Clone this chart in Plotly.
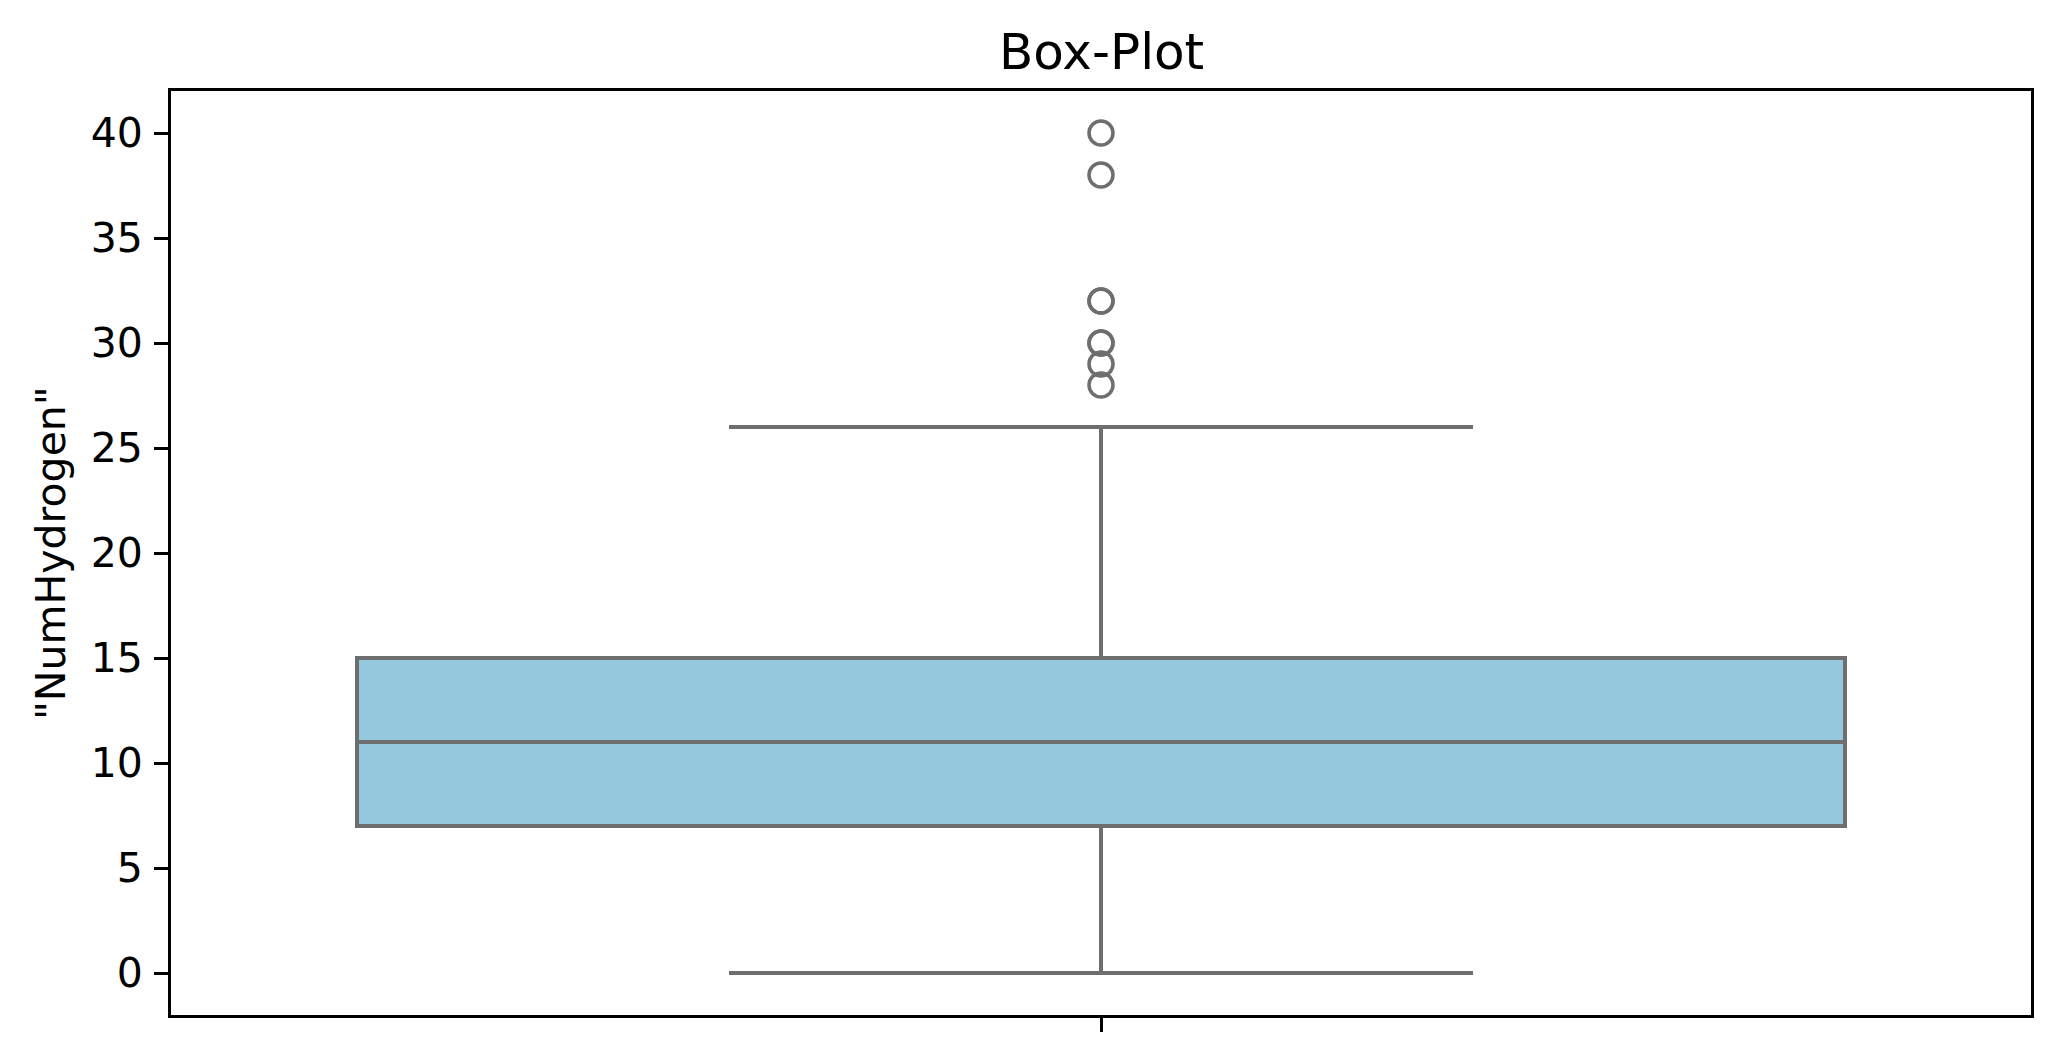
import plotly.graph_objects as go

# ---- data ----
categories = [0]
q1_vals = [7]
median_vals = [11]
q3_vals = [15]
lower_fence = [0]
upper_fence = [26]
outlier_values = [40, 38, 32, 32, 30, 30, 29, 28]
y_ticks = [0, 5, 10, 15, 20, 25, 30, 35, 40]

title_text = "Box-Plot"
y_label = '"NumHydrogen"'

LINE = "#6e6e6e"
FILL = "#95c8dd"
FONT = "DejaVu Sans"

# page body has an 8px default margin; compensate
W, H = 2052, 1053
L, R, T, B = 163, 29, 83, 46

fig = go.Figure()
fig.add_trace(go.Box(
    x=categories, q1=q1_vals, median=median_vals, q3=q3_vals,
    lowerfence=lower_fence, upperfence=upper_fence,
    width=0.8, whiskerwidth=0.5, boxpoints=False,
    fillcolor=FILL, line=dict(color=LINE, width=4),
    showlegend=False, hoverinfo="skip",
))
fig.add_trace(go.Scatter(
    x=[categories[0]] * len(outlier_values), y=outlier_values,
    mode="markers",
    marker=dict(symbol="circle-open", size=24, color=LINE,
                line=dict(color=LINE, width=3.5)),
    showlegend=False, hoverinfo="skip",
))

fig.update_layout(
    width=W, height=H,
    margin=dict(l=L, r=R, t=T, b=B, pad=0),
    paper_bgcolor="white", plot_bgcolor="white",
    font=dict(family=FONT, size=41, color="black"),
    showlegend=False,
)
fig.update_xaxes(
    range=[-0.5, 0.5], showgrid=False, zeroline=False,
    showline=True, mirror=True, linecolor="black", linewidth=3,
    tickmode="array", tickvals=categories, ticktext=[""],
    ticks="outside", ticklen=14, tickwidth=3, tickcolor="black",
    showticklabels=False,
)
fig.update_yaxes(
    range=[-2, 42], showgrid=False, zeroline=False,
    showline=True, mirror=True, linecolor="black", linewidth=3,
    tickmode="array", tickvals=y_ticks, ticktext=[str(v) for v in y_ticks],
    ticks="outside", ticklen=14, tickwidth=3, tickcolor="black",
    tickfont=dict(family=FONT, size=41, color="black"),
    ticklabelstandoff=3,
)

fig.add_annotation(
    text=title_text, xref="paper", yref="paper", x=0.5, y=1,
    xanchor="center", yanchor="bottom", yshift=8, showarrow=False,
    font=dict(family=FONT, size=50, color="black"),
)
fig.add_annotation(
    text=y_label, xref="paper", yref="paper", x=0, y=0.5,
    xanchor="center", yanchor="middle", xshift=51 - 8 - L, showarrow=False,
    textangle=-90, font=dict(family=FONT, size=41, color="black"),
)

fig.write_html("out.html")
